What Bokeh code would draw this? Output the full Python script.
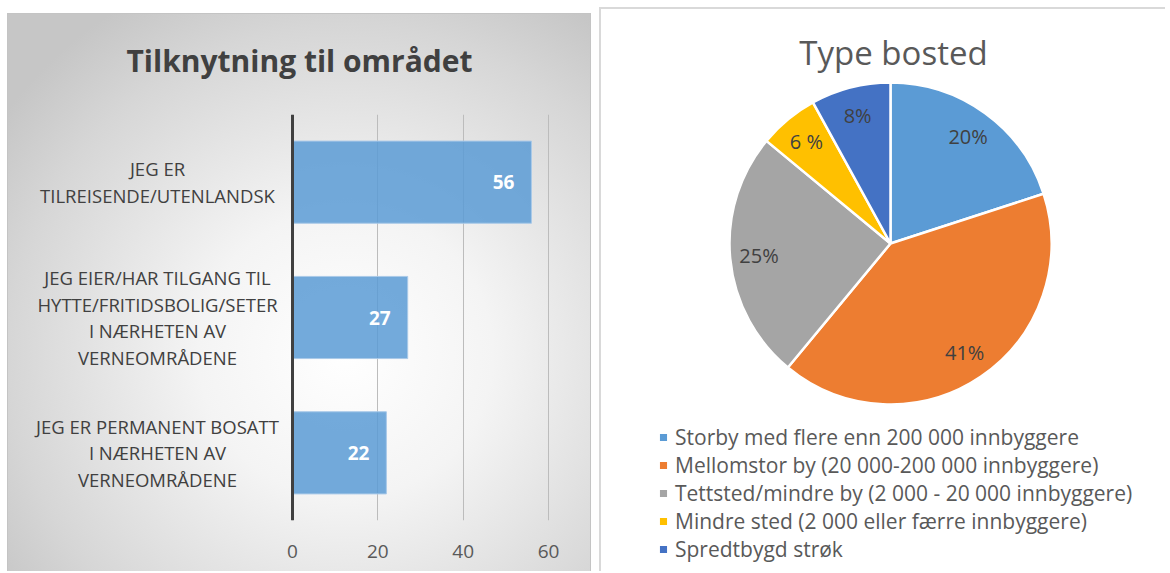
import math
from bokeh.plotting import figure
from bokeh.models import ColumnDataSource, FactorRange, Range1d, FixedTicker, Span, Spacer
from bokeh.layouts import row, column
from bokeh.core.properties import value
from bokeh.embed import file_html
from bokeh.resources import INLINE

# ---- data: left bar chart ----
bar_categories = [
    "JEG ER\nTILREISENDE/UTENLANDSK",
    "JEG EIER/HAR TILGANG TIL\nHYTTE/FRITIDSBOLIG/SETER\nI NÆRHETEN AV\nVERNEOMRÅDENE",
    "JEG ER PERMANENT BOSATT\nI NÆRHETEN AV\nVERNEOMRÅDENE",
]
bar_values = [56, 27, 22]
x_ticks = [0, 20, 40, 60]

# ---- data: right pie chart ----
pie_names = [
    "Storby med flere enn 200 000 innbyggere",
    "Mellomstor by (20 000-200 000 innbyggere)",
    "Tettsted/mindre by (2 000 - 20 000 innbyggere)",
    "Mindre sted (2 000 eller færre innbyggere)",
    "Spredtbygd strøk",
]
pie_shares = [20, 41, 25, 6, 8]
pie_labels = ["20%", "41%", "25%", "6 %", "8%"]
pie_colors = ["#5B9BD5", "#ED7D31", "#A5A5A5", "#FFC000", "#4472C4"]

FONT = value("Open Sans")

# ================= LEFT PANEL =================
src1 = ColumnDataSource(dict(cat=bar_categories, val=bar_values,
                             txt=[str(v) for v in bar_values]))

panel_bg = ", ".join([
    "linear-gradient(#ffffff, #ffffff) 0 0 / 100% 13px no-repeat",
    "linear-gradient(#c4c4c4, #c4c4c4) 0 13px / 100% 1px no-repeat",
    "linear-gradient(#c4c4c4, #c4c4c4) 0 14px / 1px 100% no-repeat",
    "linear-gradient(#c4c4c4, #c4c4c4) 100% 14px / 1px 100% no-repeat",
    "radial-gradient(ellipse 72% 72% at 58% 62%, #ffffff 0%, #f4f4f4 35%, #d6d6d6 80%, #c6c6c6 100%)",
])

p1 = figure(width=584, height=571,
            x_range=Range1d(-66.8, 70.08),
            y_range=FactorRange(*reversed(bar_categories)),
            y_axis_location=None,
            output_backend="svg", toolbar_location=None,
            min_border_left=0, min_border_right=0,
            min_border_top=114, min_border_bottom=51,
            background_fill_color=None, border_fill_color=None,
            outline_line_color=None,
            title="Tilknytning til området",
            styles={"background": panel_bg})

p1.title.align = "center"
p1.title.text_font = "Open Sans"
p1.title.text_font_style = "bold"
p1.title.text_font_size = "30px"
p1.title.text_color = "#404040"
p1.title.standoff = 67

p1.xgrid.ticker = FixedTicker(ticks=x_ticks)
p1.xgrid.grid_line_color = "#bcbcbc"
p1.ygrid.visible = False

p1.xaxis.ticker = FixedTicker(ticks=x_ticks)
p1.xaxis.axis_line_color = None
p1.xaxis.major_tick_line_color = None
p1.xaxis.minor_tick_line_color = None
p1.xaxis.major_label_standoff = 18
p1.xaxis.major_label_text_font = "Open Sans"
p1.xaxis.major_label_text_font_size = "19px"
p1.xaxis.major_label_text_color = "#595959"

p1.hbar(y="cat", right="val", left=0, height=0.607, source=src1,
        fill_color="#5B9BD5", fill_alpha=0.85,
        line_color="#a9c9e8", line_width=1)

p1.add_layout(Span(location=0, dimension="height",
                   line_color="#404040", line_width=3))

p1.text(x="val", y="cat", text="txt", source=src1, x_offset=-17,
        text_align="right", text_baseline="middle",
        text_font=FONT, text_font_style="bold", text_font_size="19px",
        text_color="#ffffff")

p1.text(x=0, y="cat", text="cat", source=src1, x_offset=-135,
        text_align="center", text_baseline="middle",
        text_font=FONT, text_font_size="18.5px", text_color="#404040",
        text_line_height=1.06)

# ================= RIGHT PANEL =================
total = float(sum(pie_shares))
starts, ends, lx, ly = [], [], [], []
cum = 0.0
for s in pie_shares:
    a0 = math.pi / 2 - 2 * math.pi * cum / total
    a1 = math.pi / 2 - 2 * math.pi * (cum + s) / total
    mid = (a0 + a1) / 2
    starts.append(a0)
    ends.append(a1)
    lx.append(0.82 * math.cos(mid))
    ly.append(0.82 * math.sin(mid))
    cum += s

src2 = ColumnDataSource(dict(name=pie_names, share=pie_shares, label=pie_labels,
                             color=pie_colors, start=starts, end=ends, lx=lx, ly=ly))

p2 = figure(width=566, height=564,
            x_range=Range1d(-1.6708, 1.7081), y_range=Range1d(-2.0373, 1.0248),
            x_axis_location=None, y_axis_location=None,
            output_backend="svg", toolbar_location=None,
            min_border_left=22, min_border_right=0,
            min_border_top=71, min_border_bottom=0,
            background_fill_color=None, border_fill_color=None,
            outline_line_color=None,
            title="Type bosted",
            styles={"background": "#ffffff",
                    "box-shadow": "inset 2px 2px 0 0 #d9d9d9"})
p2.grid.visible = False
p2.title.align = "center"
p2.title.text_font = "Open Sans"
p2.title.text_font_style = "normal"
p2.title.text_font_size = "33px"
p2.title.text_color = "#595959"
p2.title.standoff = 8

p2.wedge(x=0, y=0, radius=1, start_angle="start", end_angle="end",
         direction="clock", fill_color="color", line_color="#ffffff",
         line_width=2.5, legend_field="name", source=src2)

p2.text(x="lx", y="ly", text="label", source=src2,
        text_align="center", text_baseline="middle",
        text_font=FONT, text_font_size="20px", text_color="#404040")

lg = p2.legend[0]
lg.location = (36, 8)
lg.padding = 0
lg.margin = 0
lg.spacing = 0
lg.label_height = 28
lg.glyph_height = 12
lg.glyph_width = 12
lg.label_standoff = 6
lg.label_text_font = "Open Sans"
lg.label_text_font_size = "21px"
lg.label_text_color = "#595959"
lg.background_fill_alpha = 0
lg.border_line_color = None

layout = row(Spacer(width=7, height=10),
             p1,
             Spacer(width=8, height=10),
             column(Spacer(width=566, height=7), p2))

open("out.html", "w").write(file_html(layout, INLINE))
